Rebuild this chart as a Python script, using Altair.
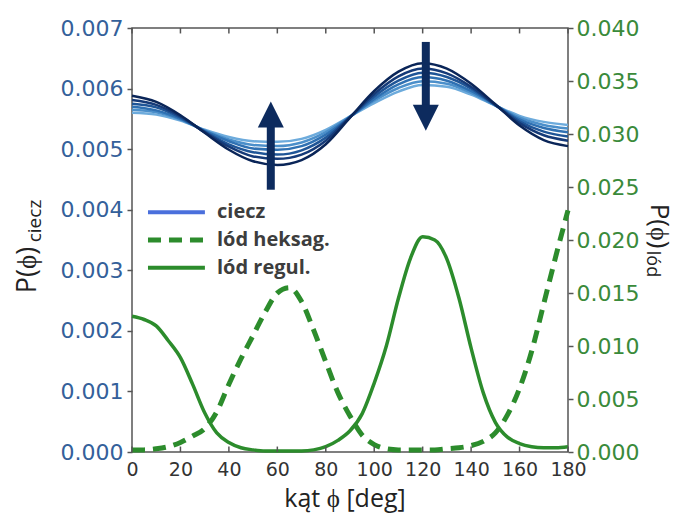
import altair as alt
import pandas as pd

# ---------------- data ----------------
phi10 = list(range(0, 181, 10))
# liquid curves, lightest -> darkest (values in units of 1e-3)
liq_names = ["k0", "k1", "k2", "k3", "k4", "k5"]
liq_colors = ["#6dabdc", "#4b8fca", "#2f71b3", "#1f5597", "#153a78", "#0a2558"]
k0 = [5.60, 5.57, 5.47, 5.32, 5.20, 5.13, 5.12, 5.17, 5.32, 5.54, 5.76, 5.95, 6.06, 6.03, 5.90, 5.72, 5.55, 5.45, 5.40]
k1 = [5.65, 5.61, 5.49, 5.31, 5.16, 5.07, 5.05, 5.11, 5.28, 5.54, 5.80, 6.01, 6.12, 6.08, 5.93, 5.72, 5.52, 5.40, 5.34]
k2 = [5.70, 5.64, 5.50, 5.30, 5.13, 5.01, 4.99, 5.05, 5.24, 5.53, 5.83, 6.07, 6.19, 6.13, 5.96, 5.73, 5.49, 5.35, 5.28]
k3 = [5.75, 5.69, 5.52, 5.29, 5.08, 4.95, 4.91, 4.98, 5.19, 5.53, 5.87, 6.13, 6.26, 6.19, 6.00, 5.73, 5.46, 5.29, 5.21]
k4 = [5.81, 5.73, 5.54, 5.28, 5.04, 4.88, 4.84, 4.91, 5.14, 5.53, 5.91, 6.20, 6.33, 6.25, 6.03, 5.73, 5.43, 5.23, 5.14]
k5 = [5.88, 5.78, 5.56, 5.27, 4.99, 4.80, 4.74, 4.82, 5.08, 5.52, 5.96, 6.28, 6.42, 6.33, 6.08, 5.74, 5.39, 5.15, 5.05]
liq_series = [k0, k1, k2, k3, k4, k5]

phi5 = list(range(0, 181, 5))
ice_hex = [0.0002, 0.0002, 0.0003, 0.0005, 0.0009, 0.0015, 0.0022, 0.0038, 0.0064, 0.0088,
           0.0110, 0.0132, 0.0150, 0.0155, 0.0142, 0.0115, 0.0085, 0.0056, 0.0034, 0.0016,
           0.0007, 0.0003, 0.0002, 0.0002, 0.0002, 0.0002, 0.0003, 0.0004, 0.0006, 0.0010,
           0.0018, 0.0035, 0.0060, 0.0095, 0.0140, 0.0185, 0.0228]
ice_reg = [0.0128, 0.0125, 0.0119, 0.0105, 0.0089, 0.0064, 0.0037, 0.0018, 0.0009, 0.0004,
           0.0002, 0.0001, 0.0001, 0.0001, 0.0001, 0.0002, 0.0005, 0.0011, 0.0020, 0.0036,
           0.0065, 0.0100, 0.0145, 0.0183, 0.0203, 0.0200, 0.0182, 0.0145, 0.0098, 0.0056,
           0.0028, 0.0014, 0.0008, 0.0005, 0.0004, 0.0004, 0.0005]

x_ticks = list(range(0, 181, 20))
left_ticks = [0, 0.001, 0.002, 0.003, 0.004, 0.005, 0.006, 0.007]
right_ticks = [0, 0.005, 0.010, 0.015, 0.020, 0.025, 0.030, 0.035, 0.040]

legend_labels = ["ciecz", "lód heksag.", "lód regul."]
legend_y = [0.00396, 0.00350, 0.00304]
legend_x = [6.6, 30.1, 35.1]

arrow_x = [57.3, 121.3]
arrow_shaft_from = [0.00433, 0.00677]
arrow_shaft_to = [0.00545, 0.00561]
arrow_head_y = [0.00557, 0.00552]

# ---------------- styles ----------------
GREEN = "#2c8c2c"
NAVY = "#0d2b5e"
FRAME = "#555555"

liq_df = pd.DataFrame(
    [{"phi": p, "v": v / 1000.0, "curve": n}
     for n, s in zip(liq_names, liq_series) for p, v in zip(phi10, s)]
)
hex_df = pd.DataFrame({"phi": phi5, "v": ice_hex})
reg_df = pd.DataFrame({"phi": phi5, "v": ice_reg})

xscale = alt.Scale(domain=[0, 180], nice=False, zero=False)
xaxis = alt.Axis(values=x_ticks, title=None, ticks=False, domain=False, grid=False,
                 labelFont="DejaVu Sans", labelFontSize=19, labelColor="#333333",
                 labelPadding=8, labelFlush=False, labelOverlap=False)


def X(field="phi"):
    return alt.X(f"{field}:Q", scale=xscale, axis=xaxis)


lscale = alt.Scale(domain=[0, 0.007], nice=False, zero=True)
laxis = alt.Axis(values=left_ticks, format=".3f", title=None, domain=False, grid=False,
                 tickSize=5, tickColor=FRAME, tickWidth=1.5,
                 labelFont="DejaVu Sans", labelFontSize=22, labelColor="#34609a",
                 labelPadding=4, labelFlush=False, labelOverlap=False)


def YL(field="v"):
    return alt.Y(f"{field}:Q", scale=lscale, axis=laxis)


rscale = alt.Scale(domain=[0, 0.040], nice=False, zero=True)
raxis = alt.Axis(values=right_ticks, format=".3f", title=None, orient="right", domain=False,
                 grid=False, tickSize=5, tickColor=FRAME, tickWidth=1.5,
                 labelFont="DejaVu Sans", labelFontSize=22, labelColor="#3a8a3a",
                 labelPadding=3, labelFlush=False, labelOverlap=False)

# ---------------- left (liquid) layers ----------------
liquid = alt.Chart(liq_df).mark_line(strokeWidth=2.5, interpolate="monotone").encode(
    x=X(), y=YL(),
    color=alt.Color("curve:N", scale=alt.Scale(domain=liq_names, range=liq_colors), legend=None),
    order=alt.Order("phi:Q"),
)

tick_df = pd.DataFrame({"t": x_ticks, "b0": [0.0] * len(x_ticks), "b1": [0.00009] * len(x_ticks),
                        "t0": [0.00691] * len(x_ticks), "t1": [0.007] * len(x_ticks)})
ticks_bottom = alt.Chart(tick_df).mark_rule(color=FRAME, strokeWidth=1.5).encode(
    x=X("t"), y=YL("b0"), y2="b1")
ticks_top = alt.Chart(tick_df).mark_rule(color=FRAME, strokeWidth=1.5).encode(
    x=X("t"), y=YL("t0"), y2="t1")

arrow_df = pd.DataFrame({"x": arrow_x, "y0": arrow_shaft_from, "y1": arrow_shaft_to, "h": arrow_head_y})
shafts = alt.Chart(arrow_df).mark_rule(color=NAVY, strokeWidth=8, strokeCap="butt").encode(
    x=X("x"), y=YL("y0"), y2="y1")
head_up = alt.Chart(arrow_df.iloc[[0]]).mark_point(
    shape="M0,-1L1,1L-1,1Z", filled=True, color=NAVY, opacity=1, size=676, strokeWidth=0
).encode(x=X("x"), y=YL("h"))
head_down = alt.Chart(arrow_df.iloc[[1]]).mark_point(
    shape="M0,1L1,-1L-1,-1Z", filled=True, color=NAVY, opacity=1, size=676, strokeWidth=0
).encode(x=X("x"), y=YL("h"))

leg_df = pd.DataFrame({"label": legend_labels, "y": legend_y,
                       "x0": [legend_x[0]] * 3, "x1": [legend_x[1]] * 3, "xt": [legend_x[2]] * 3})
leg_liq = alt.Chart(leg_df.iloc[[0]]).mark_rule(color="#4a6fdc", strokeWidth=4).encode(
    x=X("x0"), x2="x1", y=YL("y"))
leg_hex = alt.Chart(leg_df.iloc[[1]]).mark_rule(color=GREEN, strokeWidth=5, strokeDash=[13, 8]).encode(
    x=X("x0"), x2="x1", y=YL("y"))
leg_reg = alt.Chart(leg_df.iloc[[2]]).mark_rule(color=GREEN, strokeWidth=4).encode(
    x=X("x0"), x2="x1", y=YL("y"))
leg_text = alt.Chart(leg_df).mark_text(
    align="left", baseline="middle", font="Open Sans", fontSize=20, fontWeight="bold", color="#3d3d3d"
).encode(x=X("xt"), y=YL("y"), text="label:N")

# axis titles as text
title_df = pd.DataFrame({"s": ["x"]})


def title_text(txt, x, y, size, angle, baseline="middle", color="#222222"):
    return alt.Chart(title_df).mark_text(
        text=txt, font="Open Sans", fontSize=size, angle=angle, align="center",
        baseline=baseline, color=color
    ).encode(x=alt.value(x), y=alt.value(y))


t_left_main = title_text("P(ϕ)", -104, 242, 27, 270)
t_left_sub = title_text("ciecz", -97, 193, 19, 270)
t_right_main = title_text("P(ϕ)", 527, 198, 26, 90)
t_right_sub = title_text("lód", 520, 236, 18, 90)
t_x = title_text("kąt ϕ [deg]", 213, 479, 25, 0, baseline="alphabetic")

left_group = alt.layer(
    liquid, ticks_bottom, ticks_top, shafts, head_up, head_down,
    leg_liq, leg_hex, leg_reg, leg_text,
    t_left_main, t_left_sub, t_right_main, t_right_sub, t_x,
)

# ---------------- right (ice) layers ----------------
def YR():
    return alt.Y("v:Q", scale=rscale, axis=raxis)


hex_line = alt.Chart(hex_df).mark_line(color=GREEN, strokeWidth=5, strokeDash=[13, 8],
                                       interpolate="monotone").encode(x=X(), y=YR())
reg_line = alt.Chart(reg_df).mark_line(color=GREEN, strokeWidth=3.5,
                                       interpolate="monotone").encode(x=X(), y=YR())
right_group = alt.layer(hex_line, reg_line)

chart = alt.layer(right_group, left_group).resolve_scale(y="independent").properties(
    width=436, height=424,
    padding={"left": 124, "top": 20, "right": 110, "bottom": 62},
    autosize=alt.AutoSizeParams(type="none"),
    background="white",
).configure_view(stroke=FRAME, strokeWidth=1.5)

chart.save("out.html", embed_options={"renderer": "svg", "actions": False})
